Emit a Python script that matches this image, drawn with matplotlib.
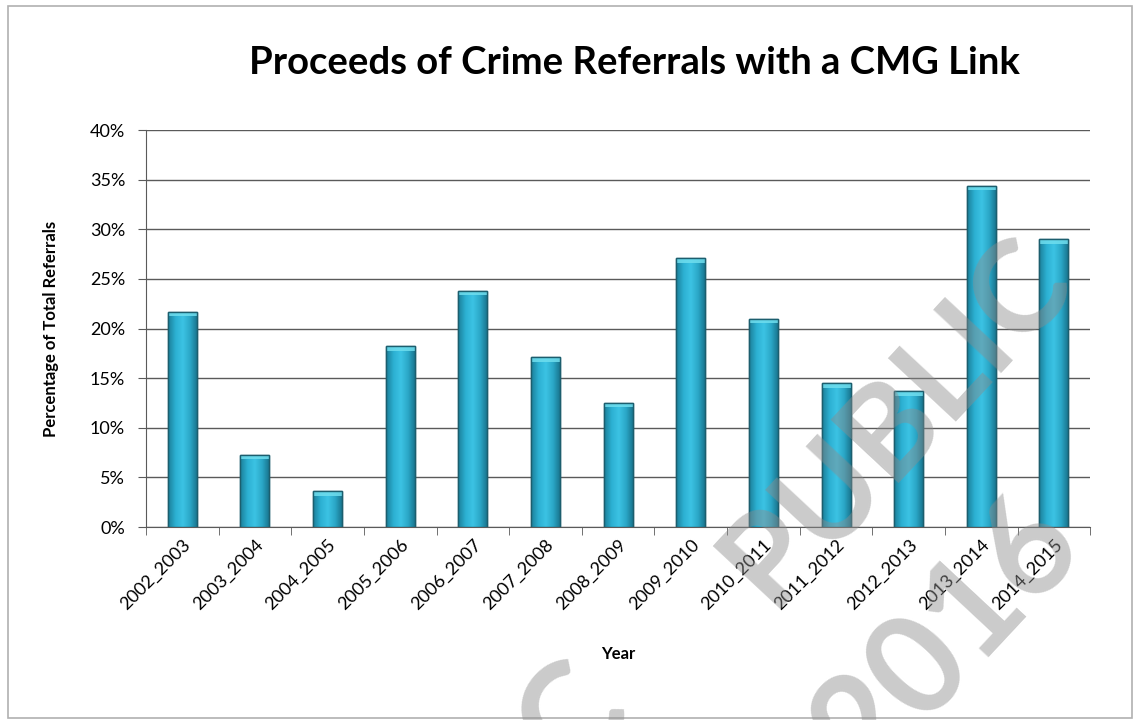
import numpy as np
import matplotlib
matplotlib.use("Agg")
import matplotlib.pyplot as plt
from matplotlib.colors import LinearSegmentedColormap
from matplotlib.patches import Rectangle

plt.rcParams["font.family"] = ["Lato", "DejaVu Sans"]

years = ["2002_2003", "2003_2004", "2004_2005", "2005_2006", "2006_2007", "2007_2008",
         "2008_2009", "2009_2010", "2010_2011", "2011_2012", "2012_2013", "2013_2014",
         "2014_2015"]
pct = [21.7, 7.3, 3.6, 18.2, 23.8, 17.1, 12.5, 27.1, 21.0, 14.5, 13.7, 34.4, 29.0]
yticks = [0, 5, 10, 15, 20, 25, 30, 35, 40]

fig = plt.figure(figsize=(11.35, 7.2), dpi=100)
fig.patch.set_facecolor("white")
# outer chart border
fig.add_artist(Rectangle((0.007, 0.003), 0.99, 0.988, transform=fig.transFigure,
                         fill=False, edgecolor="#b0b0b0", lw=1.2))

ax = fig.add_axes([0.1286, 0.268, 0.832, 0.5514])

x = np.arange(len(years))
width = 0.4
bars = ax.bar(x, pct, width=width, color="#2aa6c6", edgecolor="#1c5e6e", lw=1.0, zorder=3)

# cylinder-like shading across each bar
cmap = LinearSegmentedColormap.from_list("bar", ["#1b7f99", "#2cb0d2", "#3cc3e4", "#2aa6c6", "#177089"])
grad = np.linspace(0, 1, 64).reshape(1, -1)
for b in bars:
    x0, w, h = b.get_x(), b.get_width(), b.get_height()
    im = ax.imshow(grad, extent=[x0, x0 + w, 0, h], aspect="auto", cmap=cmap, zorder=3.5)
    im.set_clip_path(b)
    # lighter top cap
    ax.add_patch(Rectangle((x0, h - 0.45), w, 0.45, facecolor="#6fdeee", edgecolor="none",
                           alpha=0.85, zorder=3.6))
    ax.add_patch(Rectangle((x0, 0), w, h, fill=False, edgecolor="#1c5e6e", lw=1.0, zorder=3.7))

ax.set_xlim(-0.5, len(years) - 0.5)
ax.set_ylim(0, 40)
ax.set_yticks(yticks)
ax.set_yticklabels([f"{t}%" for t in yticks], fontsize=13)
ax.yaxis.grid(True, color="#5a5a5a", lw=1.0, zorder=0)
ax.set_axisbelow(True)

ax.set_xticks(x)
ax.set_xticklabels(years, rotation=45, ha="right", rotation_mode="anchor", fontsize=13)
ax.set_xticks(np.arange(-0.5, len(years)), minor=True)
ax.tick_params(axis="x", which="major", length=0, pad=7)
ax.tick_params(axis="x", which="minor", length=6, color="#5a5a5a")
ax.tick_params(axis="y", length=6, color="#5a5a5a", pad=9)

for s in ["top", "right"]:
    ax.spines[s].set_visible(False)
ax.spines["left"].set_color("#5a5a5a")
ax.spines["bottom"].set_color("#5a5a5a")

ax.set_ylabel("Percentage of Total Referrals", fontsize=12, fontweight="bold", labelpad=22)
ax.set_xlabel("Year", fontsize=12, fontweight="bold", labelpad=24)

fig.text(0.559, 0.913, "Proceeds of Crime Referrals with a CMG Link", ha="center", va="center",
         fontsize=27.5, fontweight="bold")

# watermark
wm = dict(color="#8c8c8c", alpha=0.45, fontweight="bold", ha="center", va="center",
          rotation=47, zorder=10)
fig.text(0.79, 0.415, "PUBLIC", fontsize=92, **wm)
fig.text(0.835, 0.115, "2016", fontsize=100, **wm)
fig.text(0.505, 0.0, "C", fontsize=100, **wm)

fig.savefig("out.png", dpi=100)
